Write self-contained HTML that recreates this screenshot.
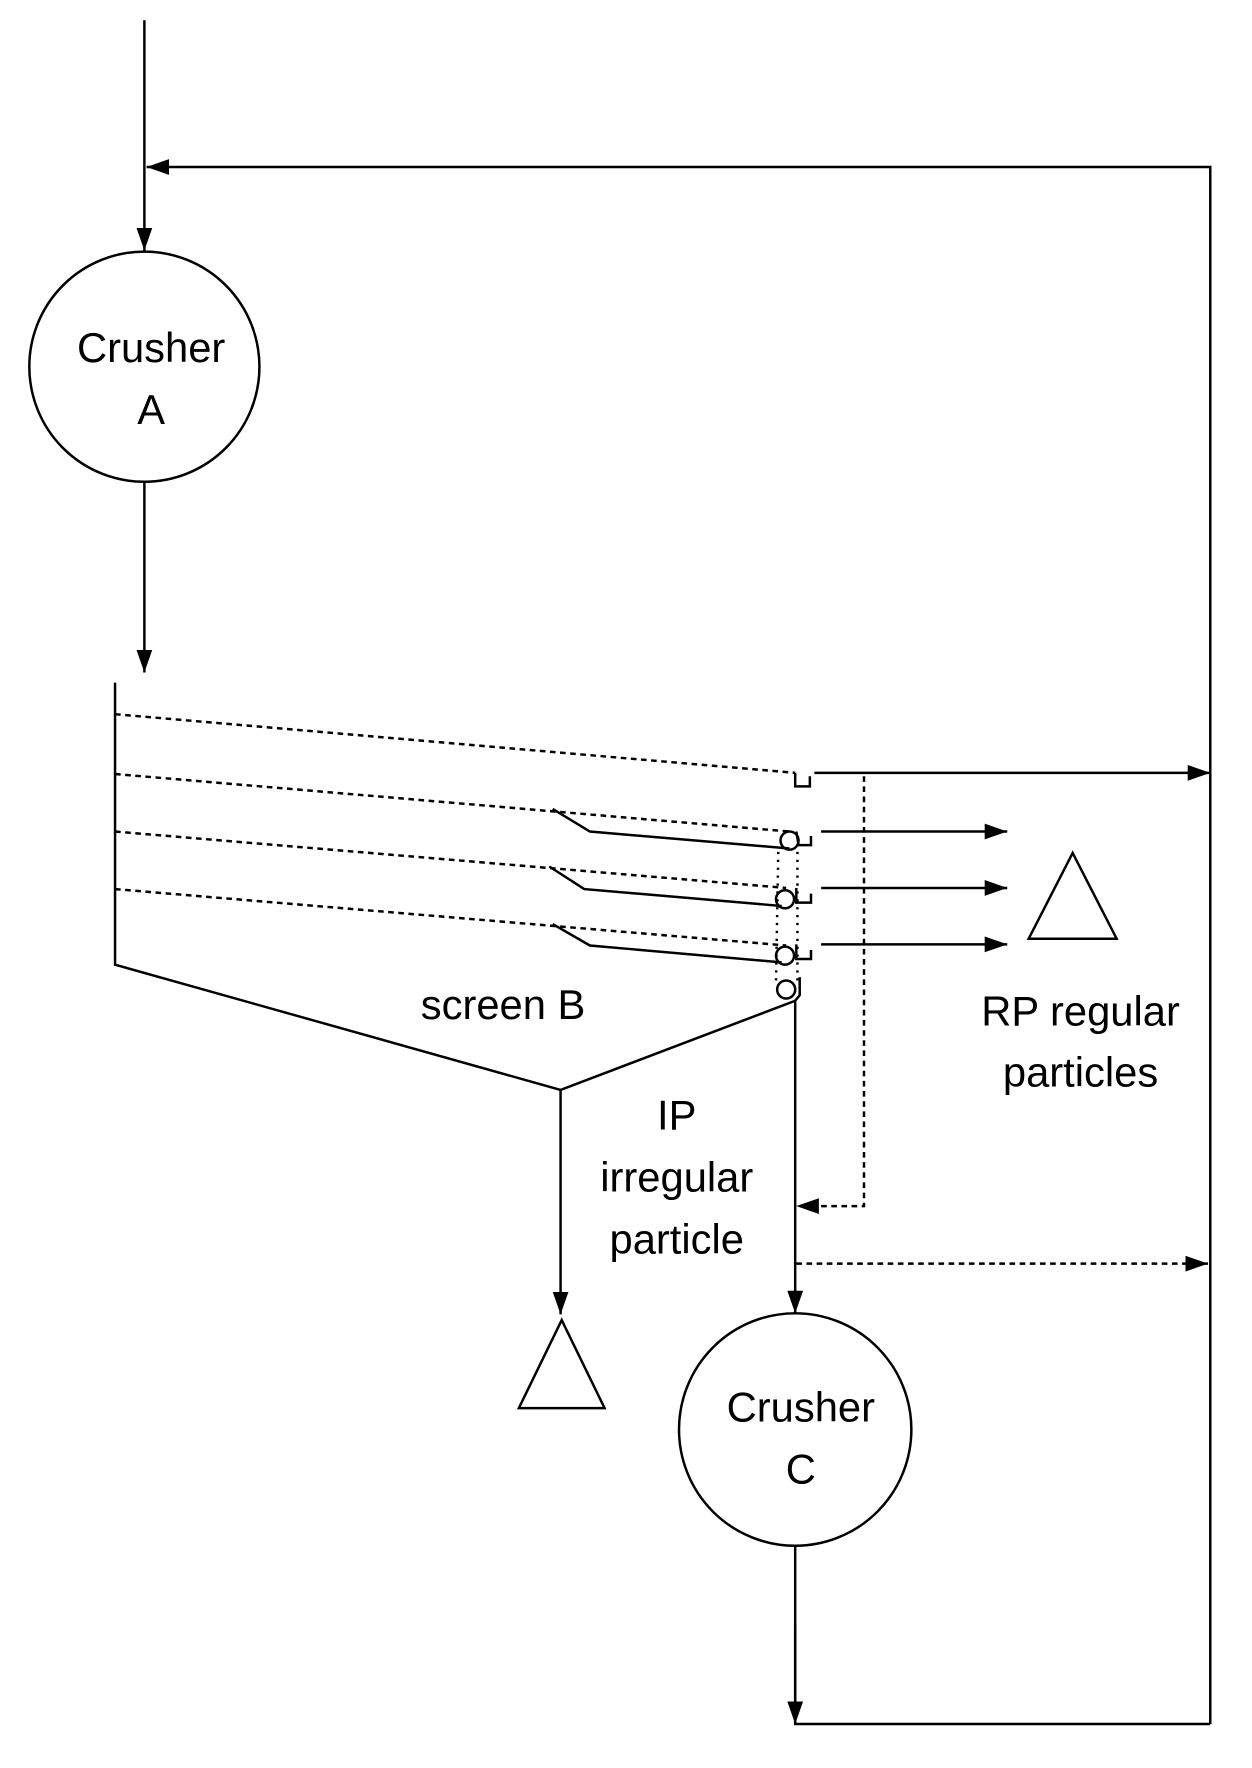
<!DOCTYPE html>
<html><head><style>html,body{margin:0;padding:0;background:#fff}svg{display:block}</style></head>
<body>
<svg width="1252" height="1768" viewBox="0 0 1110 1567" preserveAspectRatio="none" xmlns="http://www.w3.org/2000/svg">
<defs>
<marker id="b" markerWidth="20" markerHeight="14" refX="20" refY="7" orient="auto" markerUnits="userSpaceOnUse"><path d="M0,0L20,7L0,14z" fill="#000"/></marker></defs>
<g stroke="#000" stroke-width="2.2" fill="none">
<line x1="128" y1="18" x2="128" y2="222" marker-end="url(#b)"/>
<polyline points="1073,1528 1073,148 130,148" marker-end="url(#b)"/>
<circle cx="128" cy="325" r="102"/>
<line x1="128" y1="428" x2="128" y2="596" marker-end="url(#b)"/>
<polyline points="102,605 102,855 497,966 705,887"/>
<line x1="497" y1="966" x2="497" y2="1165" marker-end="url(#b)"/>
<polygon points="498,1170 460,1248 536,1248"/>
<polygon points="951,756 912,832 990,832"/>
<g stroke-dasharray="5,4">
<line x1="102" y1="633" x2="705" y2="685"/>
<line x1="102" y1="686" x2="700" y2="737"/>
<line x1="102" y1="737" x2="697" y2="787"/>
<line x1="102" y1="788" x2="697" y2="838"/>
<polyline points="766,688 766,1069 706,1069" marker-end="url(#b)"/>
<line x1="706" y1="1120" x2="1071" y2="1120" marker-end="url(#b)"/>
</g>
<g stroke-dasharray="2,5">
<line x1="690" y1="755" x2="688" y2="870"/>
<line x1="707" y1="755" x2="707" y2="870"/>
</g>
<polyline points="490,717 523,737 700,752"/>
<polyline points="487,768 518,788 693,803"/>
<polyline points="490,819 523,838 693,853"/>
<circle cx="700" cy="745" r="8"/>
<circle cx="696" cy="797" r="8"/>
<circle cx="696" cy="847" r="8"/>
<circle cx="697" cy="877" r="8"/>
<polyline points="705,685 705,697 718,697 718,688"/>
<polyline points="706,737 708,749 719,749 719,741"/>
<polyline points="706,787 706,800 719,800 719,792"/>
<polyline points="706,837 706,850 719,850 719,842"/>
<polyline points="709,866 709,882 705,887"/>
<line x1="722" y1="685" x2="1073" y2="685" marker-end="url(#b)"/>
<line x1="728" y1="737" x2="893" y2="737" marker-end="url(#b)"/>
<line x1="728" y1="787" x2="893" y2="787" marker-end="url(#b)"/>
<line x1="728" y1="837" x2="893" y2="837" marker-end="url(#b)"/>
<line x1="705" y1="887" x2="705" y2="1164" marker-end="url(#b)"/>
<circle cx="705" cy="1267" r="103"/>
<polyline points="705,1370 705,1528 1073,1528"/>
<line x1="705" y1="1440" x2="705" y2="1528" marker-end="url(#b)"/>
</g>
<g font-family="Liberation Sans, sans-serif" font-size="37" text-anchor="middle" fill="#000">
<text x="134" y="321">Crusher</text><text x="134" y="376">A</text>
<text x="446" y="903">screen B</text>
<text x="958" y="909">RP regular</text><text x="958" y="963">particles</text>
<text x="600" y="1001">IP</text><text x="600" y="1056">irregular</text><text x="600" y="1111">particle</text>
<text x="710" y="1260">Crusher</text><text x="710" y="1315">C</text>
</g>
</svg>
</body></html>
